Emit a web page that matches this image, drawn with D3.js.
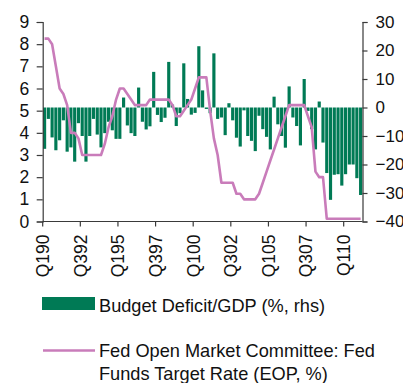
<!DOCTYPE html>
<html>
<head>
<meta charset="utf-8">
<script src="https://cdn.jsdelivr.net/npm/d3@7/dist/d3.min.js"></script>
<style>
  html, body { margin: 0; padding: 0; background: #fff; }
  svg { display: block; font-family: "Liberation Sans", Arial, sans-serif; }
</style>
</head>
<body>
<svg id="chart" width="403" height="383"></svg>
<script>
// Quarterly periods, Q1 1990 to Q1 2011
const years = d3.range(1990, 2012);
const quarters = [];
years.forEach(y => [1, 2, 3, 4].forEach(q => {
  if (y < 2011 || q === 1) quarters.push(`Q${q}${String(y % 100).padStart(2, "0")}`);
}));

// Budget deficit as % of GDP (right axis), one value per quarter
const deficit = [
  -14.5, -4, -10.5, -15,      // 1990
  -11.5, -4.5, -15.5, -14,    // 1991
  -19, -5.5, -10, -19,        // 1992
  -10, -4, -9.5, -14,         // 1993
  -9, -5, -8, -11,            // 1994
  -11, 3.5, -6.3, -9,         // 1995
  -10, 7, -5, -7.7,           // 1996
  -6.6, 12.5, -2.6, -5.1,     // 1997
  -3.6, 16, 1, -6.5,          // 1998
  -2, 15.5, 3, -2.5,          // 1999
  -1.9, 21.5, 6, -0.5,        // 2000
  -2, 19, -4, -3.5,           // 2001
  -9.7, 1.5, -4.5, -10.6,     // 2002
  -13.7, -1, -10, -11.7,      // 2003
  -15.3, -2.9, -7.6, -10.3,   // 2004
  -14.7, 3.8, -5.9, -10,      // 2005
  -14.1, 7.4, -3.5, -6.5,     // 2006
  -13.3, 10, -1.2, -7.6,      // 2007
  -14.7, 2.1, -12.3, -23,     // 2008
  -32.4, -23.6, -23.4, -27.4, // 2009
  -23.4, -20, -20, -24.8,     // 2010
  -30.7                       // 2011
];

// Fed funds target rate, end of period (left axis)
const fedFunds = [
  8.25, 8.25, 8.0, 7.0,
  6.0, 5.75, 5.25, 4.0,
  4.0, 3.75, 3.0, 3.0,
  3.0, 3.0, 3.0, 3.0,
  3.5, 4.25, 4.75, 5.5,
  6.0, 6.0, 5.75, 5.5,
  5.25, 5.25, 5.25, 5.25,
  5.5, 5.5, 5.5, 5.5,
  5.5, 5.5, 5.25, 4.75,
  4.75, 5.0, 5.25, 5.5,
  6.0, 6.5, 6.5, 6.5,
  5.0, 3.75, 3.0, 1.75,
  1.75, 1.75, 1.75, 1.25,
  1.25, 1.0, 1.0, 1.0,
  1.0, 1.25, 1.75, 2.25,
  2.75, 3.25, 3.75, 4.25,
  4.75, 5.25, 5.25, 5.25,
  5.25, 5.25, 4.75, 4.25,
  2.25, 2.0, 2.0, 0.125,
  0.125, 0.125, 0.125, 0.125,
  0.125, 0.125, 0.125, 0.125,
  0.125
];

const leftTicks = d3.range(0, 10);
const rightTicks = d3.range(-40, 31, 10);
const xTickLabels = quarters.filter((d, i) => i % 10 === 0);

const legendLabels = [
  "Budget Deficit/GDP (%, rhs)",
  ["Fed Open Market Committee: Fed", "Funds Target Rate (EOP, %)"]
];

const GREEN = "#007a55";
const PINK = "#c97cba";
const AXIS = "#3a3a3a";

const svg = d3.select("#chart");
const plotLeft = 42.7, plotRight = 362.5, plotTop = 22, plotBottom = 221.5;

const x = d3.scaleBand().domain(quarters).range([plotLeft, plotRight]).paddingInner(0.16).paddingOuter(0.08);
const yL = d3.scaleLinear().domain([0, 9]).range([plotBottom, plotTop]);
const yR = d3.scaleLinear().domain([-40, 30]).range([plotBottom, plotTop]);

// Bars from zero on the right-hand scale
svg.append("g").selectAll("rect")
  .data(quarters.map((q, i) => ({ q, v: deficit[i] })))
  .join("rect")
  .attr("x", d => x(d.q))
  .attr("width", x.bandwidth())
  .attr("y", d => yR(Math.max(0, d.v)))
  .attr("height", d => Math.abs(yR(d.v) - yR(0)))
  .attr("fill", GREEN);

// Fed funds line
const line = d3.line()
  .x((d, i) => x(quarters[i]) + x.bandwidth() / 2)
  .y(d => yL(d));
svg.append("path")
  .datum(fedFunds)
  .attr("d", line)
  .attr("fill", "none")
  .attr("stroke", PINK)
  .attr("stroke-width", 2.6)
  .attr("stroke-linejoin", "round");

function styleAxis(g, size) {
  g.selectAll(".domain").attr("stroke", AXIS).attr("stroke-width", 1.2);
  g.selectAll(".tick line").attr("stroke", AXIS).attr("stroke-width", 1.2);
  g.selectAll(".tick text").attr("fill", "#111").style("font-size", size + "px")
    .style("font-family", "'Liberation Sans', Arial, sans-serif");
}

// Left axis
svg.append("g")
  .attr("transform", `translate(${plotLeft},0)`)
  .call(d3.axisLeft(yL).tickValues(leftTicks).tickSize(6).tickPadding(7.5).tickFormat(d3.format("d")))
  .call(g => styleAxis(g, 17.5));

// Right axis
svg.append("g")
  .attr("transform", `translate(${plotRight},0)`)
  .call(d3.axisRight(yR).tickValues(rightTicks).tickSize(5).tickPadding(8).tickFormat(d3.format("d")))
  .call(g => styleAxis(g, 17));

// Bottom axis: ticks sit at the start of each labelled quarter
const step = x.step();
svg.append("line")
  .attr("x1", plotLeft).attr("x2", plotRight)
  .attr("y1", plotBottom).attr("y2", plotBottom)
  .attr("stroke", AXIS).attr("stroke-width", 1.2);
const xg = svg.append("g")
  .attr("transform", `translate(${-(x.bandwidth() / 2 + step * 0.08)},${plotBottom})`)
  .call(d3.axisBottom(x).tickValues(xTickLabels).tickSize(5).tickSizeOuter(0))
  .call(g => styleAxis(g, 17.5));
xg.select(".domain").remove();
xg.selectAll(".tick text")
  .attr("transform", "rotate(-90)")
  .attr("x", -13)
  .attr("y", 0)
  .attr("dy", "0.36em")
  .style("text-anchor", "end");

// Legend
const lg = svg.append("g").style("font-size", "18.2px").attr("fill", "#111");
lg.append("rect").attr("x", 42).attr("y", 297).attr("width", 53).attr("height", 13).attr("fill", GREEN);
lg.append("text").attr("x", 99).attr("y", 311.5).text(legendLabels[0]);
lg.append("line").attr("x1", 43).attr("x2", 95).attr("y1", 350.5).attr("y2", 350.5)
  .attr("stroke", PINK).attr("stroke-width", 2.4);
const t2 = lg.append("text").attr("x", 99).attr("y", 357);
t2.append("tspan").attr("x", 99).text(legendLabels[1][0]);
t2.append("tspan").attr("x", 99).attr("dy", 22.5).text(legendLabels[1][1]);
</script>
</body>
</html>
